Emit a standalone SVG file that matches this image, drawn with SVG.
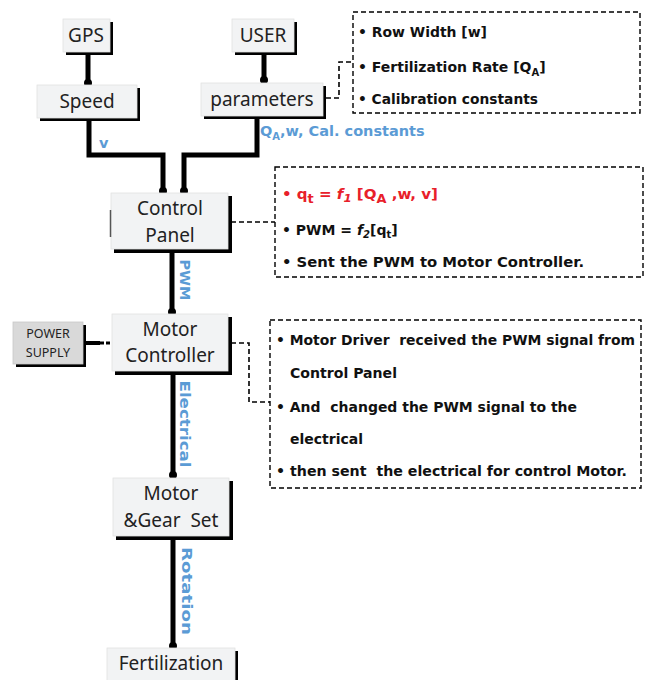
<svg xmlns="http://www.w3.org/2000/svg" width="645" height="680" viewBox="0 0 645 680">
<style>
.shadow{fill:#000}
.node{fill:#f2f3f4;stroke:#e2e2e2;stroke-width:0.8}
.ps{fill:#d9d9d9;stroke:#c8c8c8;stroke-width:0.8}
.nt{font-family:"Noto Sans","Liberation Sans",sans-serif;font-size:19px;fill:#222;text-anchor:middle;white-space:pre}
.pst{font-family:"Noto Sans","Liberation Sans",sans-serif;font-size:12.5px;fill:#222;text-anchor:middle}
.wire{fill:none;stroke:#000;stroke-width:5;stroke-linejoin:miter}
.dash{fill:none;stroke:#000;stroke-width:1.6;stroke-dasharray:5,3}
.box{fill:#fff;stroke:#000;stroke-width:1.4;stroke-dasharray:5,3}
.bt{font-family:"DejaVu Sans","Liberation Sans",sans-serif;font-size:14px;font-weight:bold;fill:#111;white-space:pre}
.lbl{font-family:"DejaVu Sans","Liberation Sans",sans-serif;font-size:14.5px;font-weight:bold;fill:#5b9bd5}
.red{fill:#e8202a}
</style>
<defs>
<marker id="dot" viewBox="0 0 10 10" refX="5" refY="5" markerWidth="1.6" markerHeight="1.6" markerUnits="strokeWidth">
<circle cx="5" cy="5" r="5" fill="#000"/>
</marker>
</defs>

<g id="connectors">
<line class="wire" x1="88" y1="53" x2="88" y2="83" marker-end="url(#dot)"/>
<line class="wire" x1="264" y1="53" x2="264" y2="80" marker-end="url(#dot)"/>
<polyline class="wire" points="89,119 89,155 163,155 163,191" marker-end="url(#dot)"/>
<polyline class="wire" points="257,117 257,155 184,155 184,191" marker-end="url(#dot)"/>
<line class="wire" x1="172" y1="251" x2="172" y2="312" marker-end="url(#dot)"/>
<line class="wire" x1="173" y1="373" x2="173" y2="475" marker-end="url(#dot)"/>
<line class="wire" x1="173" y1="538" x2="173" y2="646" marker-end="url(#dot)"/>
<line x1="86" y1="343" x2="100" y2="343" stroke="#000" stroke-width="4"/>
<line x1="100" y1="343" x2="112" y2="343" stroke="#000" stroke-width="3" stroke-dasharray="4,2"/>
<polyline class="dash" points="326,98 339,98 339,62 353,62"/>
<polyline class="dash" points="231,222 275,222"/>
<polyline class="dash" points="231,343 249,343 249,402 270,402"/>
<text class="lbl" x="99" y="148">v</text>
<text class="lbl" x="260" y="136">Q<tspan font-size="10" dy="4">A</tspan><tspan dy="-4">,w, Cal. constants</tspan></text>
<text class="lbl" x="185" y="280" font-size="13" text-anchor="middle" dominant-baseline="central" transform="rotate(90 185 280)">PWM</text>
<text class="lbl" x="185" y="424" font-size="18" text-anchor="middle" dominant-baseline="central" textLength="87" lengthAdjust="spacingAndGlyphs" transform="rotate(90 185 424)">Electrical</text>
<text class="lbl" x="187" y="591" font-size="19" text-anchor="middle" dominant-baseline="central" textLength="88" lengthAdjust="spacingAndGlyphs" transform="rotate(90 187 591)">Rotation</text>
</g>

<g id="gps">
<rect class="shadow" x="66" y="22" width="47" height="33"/>
<rect class="node" x="63" y="19" width="47" height="33"/>
<text class="nt" x="86" y="42">GPS</text>
</g>
<g id="user">
<rect class="shadow" x="235" y="22" width="62" height="33"/>
<rect class="node" x="232" y="19" width="62" height="33"/>
<text class="nt" x="263" y="42">USER</text>
</g>
<g id="speed">
<rect class="shadow" x="40" y="88" width="100" height="33"/>
<rect class="node" x="37" y="85" width="100" height="33"/>
<text class="nt" x="87" y="108">Speed</text>
</g>
<g id="parameters">
<rect class="shadow" x="204" y="86" width="122" height="33"/>
<rect class="node" x="201" y="83" width="122" height="33"/>
<text class="nt" x="262" y="106">parameters</text>
</g>
<g id="control-panel">
<rect class="shadow" x="114" y="196" width="118" height="57"/>
<rect class="node" x="111" y="193" width="117" height="56"/>
<line x1="110.5" y1="210" x2="110.5" y2="237" stroke="#555" stroke-width="1.5"/>
<text class="nt" x="170" y="215">Control</text>
<text class="nt" x="170" y="242">Panel</text>
</g>
<g id="power-supply">
<rect class="shadow" x="16" y="325" width="70" height="42"/>
<rect class="ps" x="13" y="322" width="70" height="42"/>
<text class="pst" x="48" y="338">POWER</text>
<text class="pst" x="48" y="357">SUPPLY</text>
</g>
<g id="motor-controller">
<rect class="shadow" x="115" y="317" width="117" height="58"/>
<rect class="node" x="112" y="314" width="116" height="57"/>
<text class="nt" x="170" y="336">Motor</text>
<text class="nt" x="170" y="362">Controller</text>
</g>
<g id="motor-gear">
<rect class="shadow" x="116" y="481" width="117" height="59"/>
<rect class="node" x="113" y="478" width="116" height="58"/>
<text class="nt" x="171" y="500">Motor</text>
<text class="nt" x="171" y="527">&amp;Gear  Set</text>
</g>
<g id="fertilization">
<rect class="shadow" x="110" y="651" width="128" height="35"/>
<rect class="node" x="107" y="648" width="128" height="35"/>
<text class="nt" x="171" y="670">Fertilization</text>
</g>

<g id="params-note">
<rect class="box" x="353" y="12" width="287" height="101"/>
<text class="bt" x="358" y="37" textLength="129" lengthAdjust="spacingAndGlyphs">• Row Width [w]</text>
<text class="bt" x="358" y="72">• Fertilization Rate [Q<tspan font-size="10" dy="4">A</tspan><tspan dy="-4">]</tspan></text>
<text class="bt" x="358" y="104" textLength="180" lengthAdjust="spacingAndGlyphs">• Calibration constants</text>
</g>
<g id="control-note">
<rect class="box" x="275" y="167" width="368" height="110"/>
<text class="bt red" x="282" y="199" font-size="19" textLength="156" lengthAdjust="spacingAndGlyphs">• q<tspan font-size="12" dy="4">t</tspan><tspan dy="-4"> = </tspan><tspan font-style="italic">f</tspan><tspan font-size="11" font-style="italic" dy="3">1</tspan><tspan dy="-3"> [Q</tspan><tspan font-size="12" dy="4">A</tspan><tspan dy="-4"> ,w, v]</tspan></text>
<text class="bt" x="282" y="235">• PWM = <tspan font-style="italic">f</tspan><tspan font-size="10" font-style="italic" dy="3">2</tspan><tspan dy="-3">[q</tspan><tspan font-size="10" dy="3">t</tspan><tspan dy="-3">]</tspan></text>
<text class="bt" x="282" y="267" textLength="302" lengthAdjust="spacingAndGlyphs">• Sent the PWM to Motor Controller.</text>
</g>
<g id="motor-note">
<rect class="box" x="270" y="320" width="371" height="168"/>
<text class="bt" x="276" y="345" textLength="359" lengthAdjust="spacingAndGlyphs">• Motor Driver  received the PWM signal from</text>
<text class="bt" x="290" y="378" textLength="107" lengthAdjust="spacingAndGlyphs">Control Panel</text>
<text class="bt" x="276" y="412" textLength="301" lengthAdjust="spacingAndGlyphs">• And  changed the PWM signal to the</text>
<text class="bt" x="290" y="444" textLength="73" lengthAdjust="spacingAndGlyphs">electrical</text>
<text class="bt" x="276" y="476" textLength="351" lengthAdjust="spacingAndGlyphs">• then sent  the electrical for control Motor.</text>
</g>
</svg>
